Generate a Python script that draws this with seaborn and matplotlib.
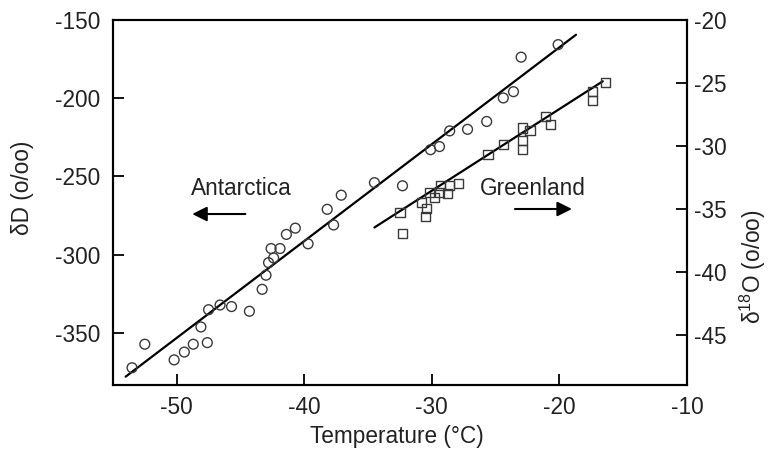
import numpy as np
import pandas as pd
import matplotlib
matplotlib.use('Agg')
import matplotlib.pyplot as plt
import seaborn as sns

# Antarctica: temperature vs deltaD (left axis)
ant_temp = [-53.5, -52.5, -50.2, -49.4, -48.7, -47.6, -48.1, -47.5, -46.6, -45.7,
            -44.3, -43.3, -43.0, -42.8, -42.4, -42.6, -41.9, -41.4, -40.7, -39.7,
            -38.2, -37.7, -37.1, -34.5, -32.3, -30.1, -29.4, -28.6, -27.2, -25.7,
            -24.4, -23.6, -23.0, -20.1]
ant_dD = [-372, -357, -367, -362, -357, -356, -346, -335, -332, -333,
          -336, -322, -313, -305, -302, -296, -296, -287, -283, -293,
          -271, -281, -262, -254, -256, -233, -231, -221, -220, -215,
          -200, -196, -174, -166]

# Greenland: temperature vs delta18O (right axis)
grl_temp = [-16.4, -17.4, -17.4, -21.1, -20.7, -22.9, -22.3, -22.9, -22.9, -24.4,
            -25.6, -27.9, -28.6, -29.3, -28.8, -29.4, -30.2, -29.8, -30.8, -30.4,
            -30.5, -32.5, -32.3]
grl_d18O = [-25.0, -25.7, -26.4, -27.7, -28.3, -28.6, -28.8, -29.6, -30.3, -29.9,
            -30.7, -33.0, -33.2, -33.2, -33.8, -33.7, -33.7, -34.1, -34.5, -35.0,
            -35.6, -35.3, -37.0]

# regression lines as drawn in the figure
ant_fit_temp = [-54.0, -18.7]
ant_fit_dD = [-377.7, -159.7]
grl_fit_temp = [-34.5, -16.6]
grl_fit_d18O = [-36.5, -24.9]

sns.set_style('ticks')
plt.rcParams['font.family'] = ['Liberation Sans', 'DejaVu Sans']
plt.rcParams['mathtext.fontset'] = 'custom'
plt.rcParams['mathtext.rm'] = 'Liberation Sans'
plt.rcParams['mathtext.it'] = 'Liberation Sans'
plt.rcParams['axes.unicode_minus'] = False
text_col = '#222222'

fig = plt.figure(figsize=(7.68, 4.54), dpi=100)
ax = fig.add_axes([0.147, 0.152, 0.7475, 0.805])
ax2 = ax.twinx()

ant = pd.DataFrame({'temp': ant_temp, 'dD': ant_dD})
grl = pd.DataFrame({'temp': grl_temp, 'd18O': grl_d18O})

sns.lineplot(x=ant_fit_temp, y=ant_fit_dD, ax=ax, color='black', lw=1.6)
sns.scatterplot(data=ant, x='temp', y='dD', ax=ax, marker='o', s=50,
                facecolor='none', edgecolor='#3a3a3a', linewidth=1.0, zorder=3)
sns.lineplot(x=grl_fit_temp, y=grl_fit_d18O, ax=ax2, color='black', lw=1.6)
sns.scatterplot(data=grl, x='temp', y='d18O', ax=ax2, marker='s', s=44,
                facecolor='none', edgecolor='#3a3a3a', linewidth=1.0, zorder=3)

ax.set_xlim(-55, -10)
ax.set_ylim(-383, -150)
ax2.set_ylim(-49, -20)
ax.set_xticks([-50, -40, -30, -20, -10])
ax.set_yticks([-350, -300, -250, -200, -150])
ax2.set_yticks([-45, -40, -35, -30, -25, -20])

fs = 16.3
for a in (ax, ax2):
    for sp in a.spines.values():
        sp.set_linewidth(1.5)
        sp.set_color('black')
    a.tick_params(direction='in', length=8, width=1.3, labelsize=fs, colors='black',
                  labelcolor=text_col)
ax.tick_params(axis='x', pad=8)
ax.tick_params(axis='y', pad=9, right=False)
ax2.tick_params(axis='y', pad=5)

ax.set_xlabel('Temperature (°C)', fontsize=fs, color=text_col, va='center')
ax.xaxis.set_label_coords(0.494, -0.142)
ax.set_ylabel('δD (o/oo)', fontsize=fs, color=text_col, va='center')
ax.yaxis.set_label_coords(-0.158, 0.54)
ax2.set_ylabel('δ$^{18}$O (o/oo)', fontsize=fs, color=text_col, rotation=90,
               va='center')
ax2.yaxis.set_label_coords(1.115, 0.323)

ax.text(-44.9, -258, 'Antarctica', fontsize=fs, color=text_col, ha='center', va='center')
ax.annotate('', xy=(-49.0, -274), xytext=(-44.4, -274),
            arrowprops=dict(arrowstyle='-|>', color='black', lw=1.5, mutation_scale=22))
ax.text(-22.1, -258, 'Greenland', fontsize=fs, color=text_col, ha='center', va='center')
ax.annotate('', xy=(-18.8, -270.8), xytext=(-23.7, -270.8),
            arrowprops=dict(arrowstyle='-|>', color='black', lw=1.5, mutation_scale=22))

fig.savefig('out.png', dpi=100)
